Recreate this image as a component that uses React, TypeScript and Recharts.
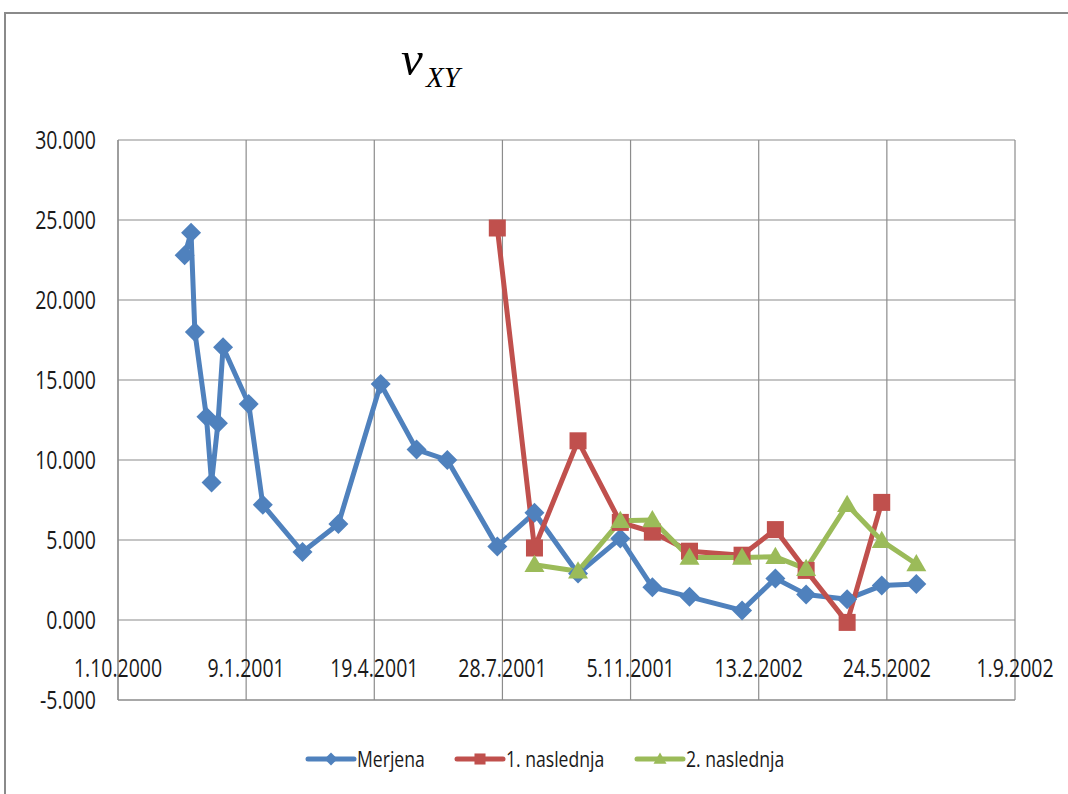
import { LineChart, Line, XAxis, YAxis, CartesianGrid, Legend } from "recharts";

// x axis: 100-day steps, as in the source sheet
const X_START = "2000-10-01";
const X_END = "2002-09-01";
const X_TICKS = [
  "2000-10-01",
  "2001-01-09",
  "2001-04-19",
  "2001-07-28",
  "2001-11-05",
  "2002-02-13",
  "2002-05-24",
  "2002-09-01",
];
const Y_TICKS = [-5, 0, 5, 10, 15, 20, 25, 30];

const MERJENA_DATES = [
  "2000-11-22", "2000-11-27", "2000-11-30", "2000-12-09", "2000-12-13",
  "2000-12-18", "2000-12-22", "2001-01-11", "2001-01-22", "2001-02-22",
  "2001-03-22", "2001-04-24", "2001-05-22", "2001-06-15", "2001-07-24",
  "2001-08-22", "2001-09-25", "2001-10-28", "2001-11-22", "2001-12-21",
  "2002-01-31", "2002-02-26", "2002-03-22", "2002-04-23", "2002-05-20",
  "2002-06-16",
];
const MERJENA_VALUES = [
  22.8, 24.2, 18.0, 12.7, 8.6, 12.3, 17.05, 13.5, 7.2, 4.25,
  6.0, 14.75, 10.65, 10.0, 4.6, 6.7, 2.9, 5.1, 2.05, 1.45,
  0.6, 2.6, 1.6, 1.3, 2.15, 2.25,
];

const NASL1_DATES = [
  "2001-07-24", "2001-08-22", "2001-09-25", "2001-10-28", "2001-11-22",
  "2001-12-21", "2002-01-31", "2002-02-26", "2002-03-22", "2002-04-23",
  "2002-05-20",
];
const NASL1_VALUES = [24.5, 4.5, 11.2, 6.1, 5.5, 4.3, 4.05, 5.65, 3.1, -0.15, 7.35];

const NASL2_DATES = [
  "2001-08-22", "2001-09-25", "2001-10-28", "2001-11-22", "2001-12-21",
  "2002-01-31", "2002-02-26", "2002-03-22", "2002-04-23", "2002-05-20",
  "2002-06-16",
];
const NASL2_VALUES = [3.45, 3.05, 6.2, 6.25, 3.9, 3.9, 3.95, 3.2, 7.2, 4.95, 3.5];

const BLUE = "#4F81BD";
const RED = "#C0504D";
const GREEN = "#9BBB59";
const GRID = "#8c8c8c";
const FONT = "'Open Sans', 'Liberation Sans', Arial, sans-serif";

const toTime = (d: string) => Date.parse(d + "T00:00:00Z");
const fmtDate = (t: number) => {
  const d = new Date(t);
  return `${d.getUTCDate()}.${d.getUTCMonth() + 1}.${d.getUTCFullYear()}`;
};

const toRows = (dates: string[], values: number[]) =>
  dates.map((d, i) => ({ t: toTime(d), v: values[i] }));

const merjena = toRows(MERJENA_DATES, MERJENA_VALUES);
const nasl1 = toRows(NASL1_DATES, NASL1_VALUES);
const nasl2 = toRows(NASL2_DATES, NASL2_VALUES);

type Shape = "diamond" | "square" | "triangle";

function Marker({ shape, cx, cy, r, color }: { shape: Shape; cx: number; cy: number; r: number; color: string }) {
  if (shape === "diamond") {
    return <polygon points={`${cx},${cy - r} ${cx + r},${cy} ${cx},${cy + r} ${cx - r},${cy}`} fill={color} />;
  }
  if (shape === "square") {
    const s = r * 0.85;
    return <rect x={cx - s} y={cy - s} width={s * 2} height={s * 2} fill={color} />;
  }
  return (
    <polygon
      points={`${cx},${cy - r} ${cx + r},${cy + r * 0.72} ${cx - r},${cy + r * 0.72}`}
      fill={color}
    />
  );
}

const makeDot = (shape: Shape, color: string) => (p: any) => (
  <Marker key={`${shape}-${p.index}`} shape={shape} cx={p.cx} cy={p.cy} r={10} color={color} />
);

const XTick = ({ x, y, payload }: any) => (
  <g transform={`translate(${x},${y - 23})`}>
    <text transform="scale(0.78,1)" textAnchor="middle" fontFamily={FONT} fontSize={25} fill="#1a1a1a">
      {fmtDate(payload.value)}
    </text>
  </g>
);

const YTick = ({ x, y, payload }: any) => (
  <g transform={`translate(${x - 22},${y})`}>
    <text transform="scale(0.78,1)" textAnchor="end" dy="0.36em" fontFamily={FONT} fontSize={25} fill="#1a1a1a">
      {payload.value.toFixed(3)}
    </text>
  </g>
);

const LEGEND_ITEMS: { label: string; color: string; shape: Shape }[] = [
  { label: "Merjena", color: BLUE, shape: "diamond" },
  { label: "1. naslednja", color: RED, shape: "square" },
  { label: "2. naslednja", color: GREEN, shape: "triangle" },
];

const renderLegend = () => {
  const starts = [308, 457, 637];
  return (
    <svg width={1068} height={30}>
      {LEGEND_ITEMS.map((it, i) => {
        const x0 = starts[i];
        return (
          <g key={it.label}>
            <line x1={x0} y1={15} x2={x0 + 46} y2={15} stroke={it.color} strokeWidth={5} strokeLinecap="round" />
            <Marker shape={it.shape} cx={x0 + 23} cy={15} r={6.5} color={it.color} />
            <g transform={`translate(${x0 + 49},23)`}>
              <text transform="scale(0.8,1)" fontFamily={FONT} fontSize={22} fill="#1a1a1a">
                {it.label}
              </text>
            </g>
          </g>
        );
      })}
    </svg>
  );
};

export default function App() {
  return (
    <div style={{ position: "absolute", left: 0, top: 0, width: 1068, height: 794, background: "#fff", overflow: "hidden" }}>
      <div
        style={{
          position: "absolute",
          left: 4,
          top: 12,
          width: 1100,
          height: 820,
          border: "2px solid #8a8a8a",
        }}
      />
      <svg style={{ position: "absolute", left: 0, top: 0 }} width={1068} height={130}>
        <text x={401} y={75} fontFamily="'Liberation Serif', 'Times New Roman', serif" fontStyle="italic" fontSize={49} fill="#000">
          v
        </text>
        <text x={426} y={87} fontFamily="'Liberation Serif', 'Times New Roman', serif" fontStyle="italic" fontSize={29} fill="#000">
          XY
        </text>
      </svg>
      <div style={{ position: "absolute", left: 0, top: 0 }}>
        <LineChart width={1068} height={794} margin={{ top: 140, right: 53, bottom: 0, left: 0 }}>
          <CartesianGrid stroke={GRID} strokeWidth={1.2} />
          <XAxis
            type="number"
            dataKey="t"
            domain={[toTime(X_START), toTime(X_END)]}
            ticks={X_TICKS.map(toTime)}
            tick={<XTick />}
            tickSize={0}
            tickMargin={0}
            tickLine={false}
            axisLine={{ stroke: GRID, strokeWidth: 1.2 }}
            height={94}
            interval={0}
          />
          <YAxis
            type="number"
            domain={[-5, 30]}
            ticks={Y_TICKS}
            tick={<YTick />}
            tickSize={0}
            tickMargin={0}
            tickLine={false}
            axisLine={{ stroke: GRID, strokeWidth: 1.2 }}
            width={118}
            interval={0}
          />
          <Legend
            layout="horizontal"
            verticalAlign="middle"
            align="center"
            wrapperStyle={{ top: 744, left: 0, width: 1068, height: 30 }}
            content={renderLegend}
          />
          <Line
            data={merjena}
            dataKey="v"
            name="Merjena"
            type="linear"
            stroke={BLUE}
            strokeWidth={5}
            strokeLinejoin="round"
            dot={makeDot("diamond", BLUE)}
            activeDot={false}
            isAnimationActive={false}
          />
          <Line
            data={nasl1}
            dataKey="v"
            name="1. naslednja"
            type="linear"
            stroke={RED}
            strokeWidth={5}
            strokeLinejoin="round"
            dot={makeDot("square", RED)}
            activeDot={false}
            isAnimationActive={false}
          />
          <Line
            data={nasl2}
            dataKey="v"
            name="2. naslednja"
            type="linear"
            stroke={GREEN}
            strokeWidth={5}
            strokeLinejoin="round"
            dot={makeDot("triangle", GREEN)}
            activeDot={false}
            isAnimationActive={false}
          />
        </LineChart>
      </div>
    </div>
  );
}
